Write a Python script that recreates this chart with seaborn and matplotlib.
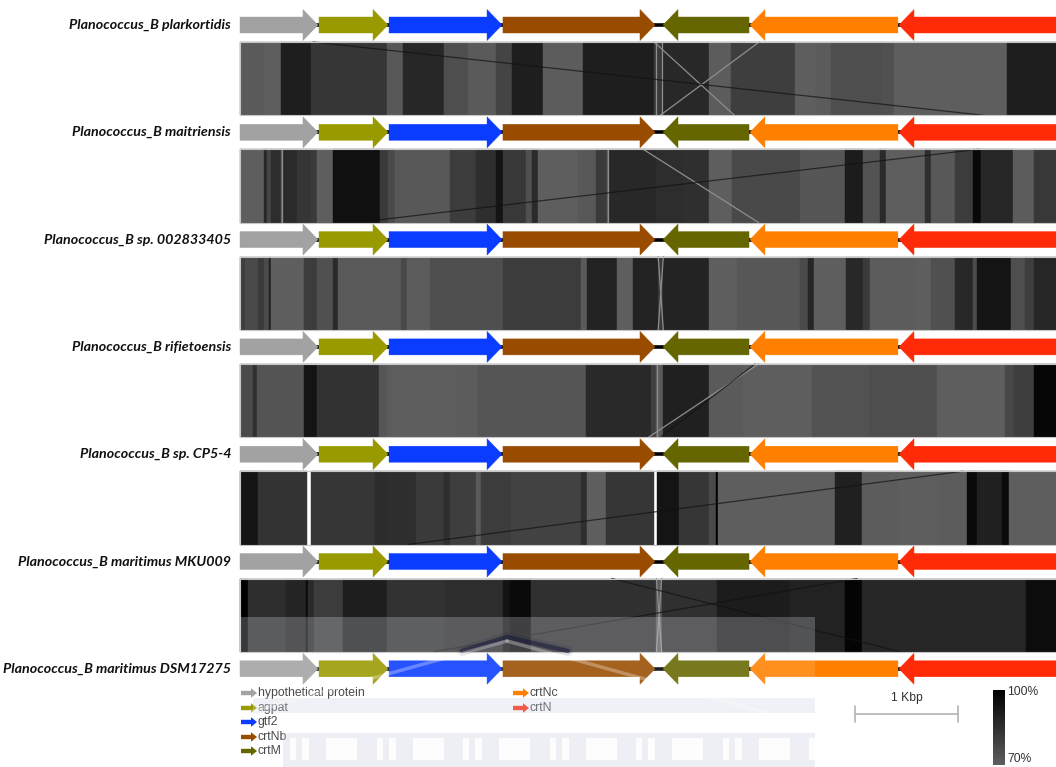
import numpy as np
import matplotlib
matplotlib.use("Agg")
import matplotlib.pyplot as plt
from matplotlib.patches import Polygon, Rectangle
from matplotlib.colors import Normalize
from matplotlib.transforms import IdentityTransform
import seaborn as sns

sns.set_theme(style="white")
plt.rcParams["font.family"] = ["Liberation Sans", "DejaVu Sans"]

# ---------------------------------------------------------------- genomes
GENOMES = [
    "Planococcus_B plarkortidis",
    "Planococcus_B maitriensis",
    "Planococcus_B sp. 002833405",
    "Planococcus_B rifietoensis",
    "Planococcus_B sp. CP5-4",
    "Planococcus_B maritimus MKU009",
    "Planococcus_B maritimus DSM17275",
]

# ---------------------------------------------------------------- genes (kbp)
GENE_NAMES = ["hypothetical protein", "agpat", "gtf2", "crtNb", "crtM", "crtNc", "crtN"]
GENE_COLORS = ["#a2a2a2", "#999900", "#0a3cff", "#994c00", "#666600", "#ff8000", "#ff2a08"]
GENE_START = [0.000, 0.767, 1.447, 2.553, 4.107, 4.951, 6.398]
GENE_END = [0.757, 1.437, 2.544, 4.029, 4.942, 6.388, 8.600]
GENE_STRAND = [1, 1, 1, 1, -1, -1, -1]

# ---------------------------------------------------------------- BLASTn identity blocks between neighbouring genomes
BAND_1_EDGES = [0.00, 0.229, 0.397, 0.687, 1.424, 1.587, 1.983, 2.212, 2.482, 2.645, 2.939, 3.331,
                4.017, 4.109, 4.552, 4.770, 5.390, 5.594, 5.736, 6.229, 6.346, 7.450, 8.30]
BAND_1_IDENTITY = [71.3, 70.0, 90.4, 82.8, 71.9, 87.6, 75.1, 71.3, 78.3, 90.4, 70.6, 90.4,
                   81.5, 87.2, 70.6, 80.2, 70.0, 71.0, 75.1, 74.5, 70.0, 90.4]
BAND_1_LIGHT_LINKS = [(4.043, 4.043), (4.094, 4.094), (4.02, 4.80), (5.04, 4.08)]
BAND_1_DARK_LINKS = [(0.71, 7.22)]

BAND_2_EDGES = [0.00, 0.229, 0.265, 0.305, 0.397, 0.422, 0.550, 0.687, 0.748, 0.905, 1.363, 1.434,
                1.500, 2.034, 2.289, 2.482, 2.558, 2.772, 2.838, 2.889, 3.280, 3.458, 3.560, 3.585,
                4.043, 4.297, 4.552, 4.780, 5.441, 5.873, 6.052, 6.214, 6.270, 6.651, 6.712, 6.941,
                7.119, 7.196, 7.501, 7.704, 8.30]
BAND_2_IDENTITY = [70.0, 87.2, 77.7, 85.6, 70.0, 86.6, 83.1, 81.5, 70.0, 94.9, 81.5, 76.4,
                   71.9, 80.9, 85.3, 93.6, 82.1, 74.5, 86.6, 70.0, 71.9, 81.5, 70.0, 87.2,
                   85.6, 85.0, 70.0, 76.7, 72.6, 91.1, 73.8, 86.6, 70.0, 85.3, 71.9, 80.9,
                   97.4, 87.9, 70.6, 82.1]
BAND_2_LIGHT_LINKS = [(0.41, 0.41), (3.57, 3.57), (3.915, 5.035)]
BAND_2_DARK_LINKS = [(7.17, 1.12)]

BAND_3_EDGES = [0.00, 0.051, 0.178, 0.229, 0.280, 0.305, 0.626, 0.748, 0.905, 0.956, 1.567, 1.617,
                1.841, 2.553, 3.306, 3.367, 3.661, 3.814, 4.058, 4.109, 4.552, 4.821, 5.441, 5.518,
                5.568, 5.884, 6.052, 6.112, 6.560, 6.712, 6.941, 7.119, 7.160, 7.486, 7.618, 7.704, 8.30]
BAND_3_IDENTITY = [80.2, 76.4, 81.5, 76.4, 89.2, 70.0, 80.9, 74.5, 86.6, 71.3, 77.0, 70.6,
                   75.1, 80.9, 71.3, 89.2, 70.0, 89.2, 81.5, 88.8, 70.0, 72.2, 76.4, 87.9,
                   70.0, 87.2, 81.5, 70.6, 70.0, 74.5, 87.2, 75.7, 93.6, 75.1, 80.2, 87.9]
BAND_3_LIGHT_LINKS = [(4.06, 4.11), (4.11, 4.06)]
BAND_3_DARK_LINKS = []

BAND_4_EDGES = [0.00, 0.127, 0.163, 0.626, 0.748, 1.348, 1.424, 1.490, 2.111, 2.314, 3.356, 3.992,
                4.043, 4.109, 4.552, 4.882, 5.553, 6.102, 6.763, 7.424, 7.516, 7.704, 8.30]
BAND_4_IDENTITY = [76.4, 84.7, 73.2, 93.6, 84.0, 72.9, 70.6, 70.0, 70.6, 72.9, 86.9, 79.6,
                   71.3, 89.8, 71.3, 70.0, 73.8, 75.1, 70.0, 77.0, 80.2, 98.1]
BAND_4_LIGHT_LINKS = [(4.05, 4.05), (5.035, 3.967)]
BAND_4_DARK_LINKS = [(5.00, 4.08)]

BAND_5_EDGES = [0.00, 0.178, 0.651, 0.687, 1.312, 1.424, 1.704, 1.983, 2.034, 2.289, 2.339, 2.634,
                3.306, 3.367, 3.549, 4.017, 4.048, 4.262, 4.552, 4.618, 4.638, 5.772, 6.041, 6.397,
                6.774, 7.059, 7.160, 7.399, 7.465, 8.30]
BAND_5_IDENTITY = [93.6, 83.7, np.nan, 82.8, 86.0, 85.3, 81.5, 85.3, 80.2, 71.3, 80.9, 78.9,
                   85.3, 70.0, 82.8, np.nan, 93.6, 82.8, 76.4, 100.0, 70.0, 89.8, 70.6, 70.0,
                   70.6, 96.8, 89.8, 96.8, 70.0]
BAND_5_LIGHT_LINKS = []
BAND_5_DARK_LINKS = [(7.02, 1.63)]

BAND_6_EDGES = [0.00, 0.077, 0.448, 0.636, 0.661, 0.722, 1.002, 1.424, 1.994, 2.553, 2.619, 2.822,
                4.043, 4.094, 4.628, 5.340, 5.873, 6.041, 7.628, 8.30]
BAND_6_IDENTITY = [100.0, 85.3, 88.5, 96.8, 86.6, 80.9, 90.4, 84.0, 85.6, 93.6, 96.8, 84.7,
                   71.3, 84.7, 91.1, 89.2, 98.7, 87.9, 96.2]
BAND_6_LIGHT_LINKS = [(4.043, 4.094), (4.094, 4.043)]
BAND_6_DARK_LINKS = [(3.61, 6.41), (5.99, 1.88)]

BANDS = [
    (BAND_1_EDGES, BAND_1_IDENTITY, BAND_1_LIGHT_LINKS, BAND_1_DARK_LINKS),
    (BAND_2_EDGES, BAND_2_IDENTITY, BAND_2_LIGHT_LINKS, BAND_2_DARK_LINKS),
    (BAND_3_EDGES, BAND_3_IDENTITY, BAND_3_LIGHT_LINKS, BAND_3_DARK_LINKS),
    (BAND_4_EDGES, BAND_4_IDENTITY, BAND_4_LIGHT_LINKS, BAND_4_DARK_LINKS),
    (BAND_5_EDGES, BAND_5_IDENTITY, BAND_5_LIGHT_LINKS, BAND_5_DARK_LINKS),
    (BAND_6_EDGES, BAND_6_IDENTITY, BAND_6_LIGHT_LINKS, BAND_6_DARK_LINKS),
]

IDENTITY_RANGE = (70, 100)
IDENTITY_LABELS = ["100%", "70%"]
SCALE_BAR_KBP = 1.0
SCALE_BAR_LABEL = "1 Kbp"

# ---------------------------------------------------------------- layout
W, H = 1056, 767
PX_PER_KBP = 103.0
X0_PX = 240.0
TRACK0_PX = 25.0
PITCH_PX = 107.3
BODY_HALF = 8.0 / PITCH_PX
HEAD_HALF = 15.5 / PITCH_PX
HEAD_LEN = 15.0 / PX_PER_KBP
BAND_GAP = 17.0 / PITCH_PX

cmap = sns.blend_palette(["#5e5e5e", "#000000"], as_cmap=True)
norm = Normalize(*IDENTITY_RANGE)

fig = plt.figure(figsize=(W / 100, H / 100), dpi=100)
ax = fig.add_axes([0, 0, 1, 1])
ax.set_xlim(-X0_PX / PX_PER_KBP, (W - X0_PX) / PX_PER_KBP)
ax.set_ylim((H - TRACK0_PX) / PITCH_PX, -TRACK0_PX / PITCH_PX)
ax.axis("off")


def pix(x, y):
    """image pixel (origin top-left) -> display coordinates"""
    return (x, H - y)


# ---- comparison bands
for k, (edges, ident, light, dark) in enumerate(BANDS):
    edges = np.asarray(edges, float)
    ident = np.asarray(ident, float)
    ok = ~np.isnan(ident)
    top = k + BAND_GAP
    height = 1 - 2 * BAND_GAP
    cols = cmap(norm(ident[ok]))
    ax.bar(edges[:-1][ok], height, width=np.diff(edges)[ok], bottom=top, align="edge",
           color=cols, edgecolor=cols, linewidth=0.3, zorder=1)
    for xt, xb in light:
        ax.plot([xt, xb], [top, top + height], color="#8e8e8e", lw=0.9, zorder=1.5)
    for xt, xb in dark:
        ax.plot([xt, xb], [top, top + height], color="#111111", lw=0.9, alpha=0.7, zorder=1.5)
    ax.add_patch(Rectangle((edges[0], top), edges[-1] - edges[0], height, fill=False,
                           edgecolor="#c6c6c6", lw=0.8, zorder=1.6))

# ---- gene tracks
for i, name in enumerate(GENOMES):
    ax.plot([GENE_START[0], GENE_END[-1]], [i, i], color="black", lw=2.6,
            solid_capstyle="butt", zorder=2)
    for s, e, strand, col in zip(GENE_START, GENE_END, GENE_STRAND, GENE_COLORS):
        if strand > 0:
            pts = [(s, i - BODY_HALF), (e - HEAD_LEN, i - BODY_HALF), (e - HEAD_LEN, i - HEAD_HALF),
                   (e, i), (e - HEAD_LEN, i + HEAD_HALF), (e - HEAD_LEN, i + BODY_HALF), (s, i + BODY_HALF)]
        else:
            pts = [(e, i - BODY_HALF), (s + HEAD_LEN, i - BODY_HALF), (s + HEAD_LEN, i - HEAD_HALF),
                   (s, i), (s + HEAD_LEN, i + HEAD_HALF), (s + HEAD_LEN, i + BODY_HALF), (e, i + BODY_HALF)]
        ax.add_patch(Polygon(pts, closed=True, facecolor=col, edgecolor=col, lw=0.3, zorder=3))
    ax.text(-9.0 / PX_PER_KBP, i, name, ha="right", va="center", fontsize=10.3,
            fontstyle="italic", fontweight="bold", family=["Lato", "DejaVu Sans"], color="#111111")

# ---- gene legend
def legend_arrow(x, y, col):
    L, hl, bh, hh = 16, 6, 2.2, 4.8
    pts = [pix(x, y - bh), pix(x + L - hl, y - bh), pix(x + L - hl, y - hh), pix(x + L, y),
           pix(x + L - hl, y + hh), pix(x + L - hl, y + bh), pix(x, y + bh)]
    fig.add_artist(Polygon(pts, closed=True, facecolor=col, edgecolor="none",
                           transform=IdentityTransform(), zorder=5))


legend_slots = [(241, 693), (241, 708), (241, 722), (241, 737), (241, 751), (513, 693), (513, 708)]
for (lx, ly), name, col in zip(legend_slots, GENE_NAMES, GENE_COLORS):
    legend_arrow(lx, ly, col)
    fig.text(lx + 16.5, H - ly, name, transform=IdentityTransform(), ha="left", va="center",
             fontsize=8.8, color="#4a4a4a")

# ---- scale bar
sb_y = (714 - TRACK0_PX) / PITCH_PX
sb_x0 = (855 - X0_PX) / PX_PER_KBP
tick = 8.0 / PITCH_PX
ax.plot([sb_x0, sb_x0 + SCALE_BAR_KBP], [sb_y, sb_y], color="#b3b3b3", lw=1.2, zorder=4)
for xx in (sb_x0, sb_x0 + SCALE_BAR_KBP):
    ax.plot([xx, xx], [sb_y - tick, sb_y + tick], color="#b3b3b3", lw=1.2, zorder=4)
ax.text(sb_x0 + SCALE_BAR_KBP / 2, (698 - TRACK0_PX) / PITCH_PX, SCALE_BAR_LABEL,
        ha="center", va="center", fontsize=8.7, color="#333333")

# ---- identity colour scale
cax = fig.add_axes([993 / W, 1 - 765 / H, 12 / W, 75 / H])
grad = np.linspace(IDENTITY_RANGE[1], IDENTITY_RANGE[0], 60)[:, None]
sns.heatmap(grad, cmap=cmap, vmin=IDENTITY_RANGE[0], vmax=IDENTITY_RANGE[1], cbar=False,
            xticklabels=False, yticklabels=False, ax=cax)
cax.set_xlabel("")
cax.set_ylabel("")
fig.text(1007, H - 692, IDENTITY_LABELS[0], transform=IdentityTransform(), ha="left",
         va="center", fontsize=8.7, color="#333333")
fig.text(1007, H - 759, IDENTITY_LABELS[1], transform=IdentityTransform(), ha="left",
         va="center", fontsize=8.7, color="#333333")

# ---- faint institutional watermark over the lower left
wm = "#cfd2e4"
def wm_rect(x0, y0, x1, y1, color, alpha):
    fig.add_artist(Rectangle(pix(x0, y1), x1 - x0, y1 - y0, facecolor=color, edgecolor="none",
                             alpha=alpha, transform=IdentityTransform(), zorder=20))

wm_rect(240, 617, 815, 652, "#eef0f6", 0.24)
wm_rect(240, 652, 815, 688, "#ffffff", 0.12)
for lw_, a_ in ((7, 0.12), (3.2, 0.55)):
    fig.add_artist(plt.Line2D([462, 507, 568], [H - 651, H - 637, H - 651], color="#17193a",
                              lw=lw_, alpha=a_, transform=IdentityTransform(), zorder=21,
                              solid_joinstyle="miter"))
for xe, ye in ((250, 712), (815, 726)):
    fig.add_artist(plt.Line2D([507, xe], [H - 641, H - ye], color="#ffffff", lw=2.5, alpha=0.3,
                              transform=IdentityTransform(), zorder=21))
wm_rect(253, 698, 815, 713, wm, 0.3)
wm_rect(283, 733, 815, 767, wm, 0.35)
bay = 86.5
x = 290.0
while x < 815:
    for a, b in ((0, 6), (12, 19), (36, 67)):
        if x + a < 815:
            wm_rect(x + a, 738, min(x + b, 815), 760, "#ffffff", 0.9)
    x += bay

fig.savefig("out.png", dpi=100, facecolor="white")
